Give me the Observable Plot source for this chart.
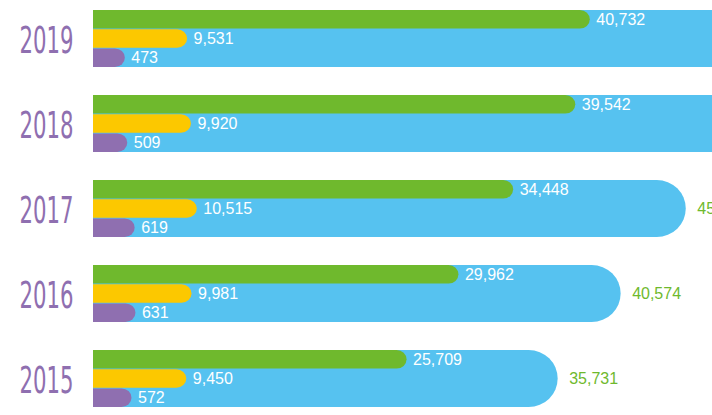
<!DOCTYPE html>
<html><head><meta charset="utf-8">
<script src="https://cdn.jsdelivr.net/npm/d3@7"></script>
<script src="https://cdn.jsdelivr.net/npm/@observablehq/plot@0.6"></script>
<style>
html,body{margin:0;padding:0;background:#fff;overflow:hidden;}
#chart{position:relative;width:712px;height:415px;overflow:hidden;}
#chart svg{position:absolute;left:0;top:0;}
</style></head><body><div id="chart"></div>
<script>
// ---- data ----
const years  = ["2019", "2018", "2017", "2016", "2015"];
const green  = [40732, 39542, 34448, 29962, 25709];
const yellow = [9531, 9920, 10515, 9981, 9450];
const purple = [473, 509, 619, 631, 572];
const totals = [50736, 49971, 45582, 40574, 35731];

// ---- style ----
const C_BLUE = "#56c2f0", C_GREEN = "#6fb92d", C_YELLOW = "#fcc800", C_PURPLE = "#8f6fb0";
const FONT = "'Liberation Sans', Arial, Helvetica, sans-serif";
const YEAR_FONT = "'Liberation Sans Narrow', 'DejaVu Sans Condensed', Roboto, sans-serif";
const fmt = d3.format(",");
const SUB = 19.2; // one third of the band
const BLUE_MAX = 47600;

const rows = years.map((year, i) => ({year, green: green[i], yellow: yellow[i], purple: purple[i], total: totals[i]}));

const base = {
  width: 712, height: 415,
  marginLeft: 93, marginRight: 0, marginTop: 8, marginBottom: 6,
  y: {type: "band", domain: years, paddingInner: 0.33, paddingOuter: 0, align: 0.5, axis: null},
  style: {background: "transparent", fontFamily: FONT, overflow: "visible"}
};

const chart = document.getElementById("chart");

// Layer 1: totals (blue) + years
const p1 = Plot.plot({
  ...base,
  x: {domain: [0, BLUE_MAX], axis: null},
  marks: [
    Plot.barX(rows, {y: "year", x: "total", fill: C_BLUE, rx: 29, insetLeft: -40, clip: true}),
    // totals whose bar runs past the right edge have no visible label in the original
    Plot.text(rows.filter(d => d.total <= BLUE_MAX), {y: "year", x: "total", text: d => fmt(d.total), textAnchor: "start", dx: 11, fill: C_GREEN, fontSize: 16}),
    Plot.text(rows, {y: "year", frameAnchor: "left", text: "year", textAnchor: "end", dx: -20, dy: 2, fill: C_PURPLE, fontSize: 37, fontFamily: YEAR_FONT})
  ]
});
d3.select(p1).selectAll("text").filter(function() { return years.includes(this.textContent); })
  .attr("textLength", 54).attr("lengthAdjust", "spacingAndGlyphs");
chart.appendChild(p1);

function layer(key, dmax, color, insetTop, insetBottom, dy) {
  return Plot.plot({
    ...base,
    x: {domain: [0, dmax], axis: null},
    marks: [
      Plot.barX(rows, {y: "year", x: key, fill: color, rx: 10, insetTop, insetBottom, insetLeft: -30, clip: true}),
      Plot.text(rows, {y: "year", x: key, text: d => fmt(d[key]), textAnchor: "start", dx: 6, dy, fill: "white", fontSize: 16})
    ]
  });
}
chart.appendChild(layer("green", 50750, C_GREEN, 0, 2 * SUB, -SUB));
chart.appendChild(layer("yellow", 62700, C_YELLOW, SUB, SUB, 0));
chart.appendChild(layer("purple", 9200, C_PURPLE, 2 * SUB, 0, SUB));
</script></body></html>
